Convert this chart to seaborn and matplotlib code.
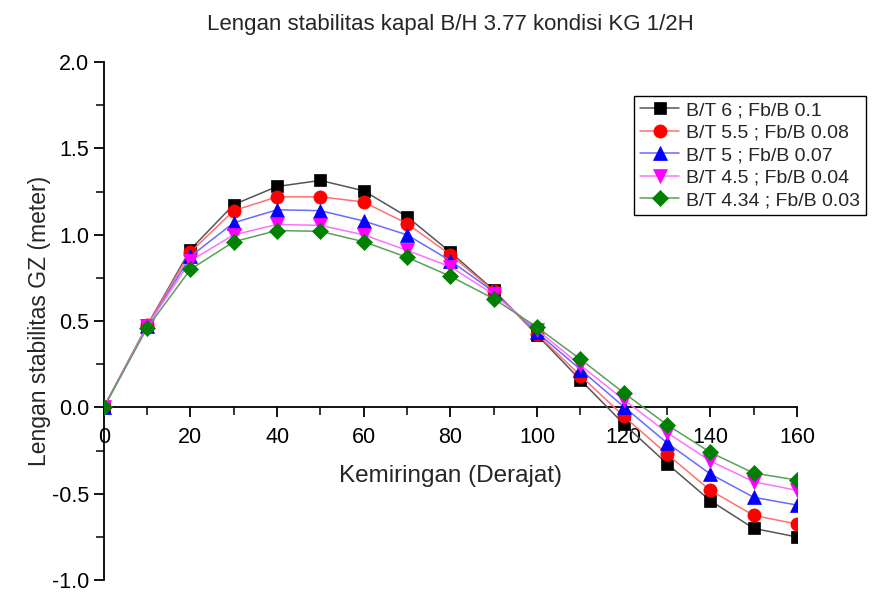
import matplotlib
matplotlib.use("Agg")
import matplotlib.pyplot as plt
import seaborn as sns
import pandas as pd
from matplotlib.ticker import MultipleLocator

angles = [0, 10, 20, 30, 40, 50, 60, 70, 80, 90, 100, 110, 120, 130, 140, 150, 160]
gz_bt6 = [0.0, 0.475, 0.915, 1.175, 1.28, 1.315, 1.255, 1.105, 0.90, 0.68, 0.42, 0.16, -0.095, -0.325, -0.54, -0.70, -0.75]
gz_bt55 = [0.0, 0.475, 0.90, 1.14, 1.22, 1.22, 1.19, 1.065, 0.885, 0.675, 0.425, 0.185, -0.05, -0.27, -0.48, -0.625, -0.675]
gz_bt5 = [0.0, 0.47, 0.875, 1.07, 1.145, 1.14, 1.08, 1.0, 0.85, 0.67, 0.435, 0.22, 0.005, -0.205, -0.385, -0.52, -0.565]
gz_bt45 = [0.0, 0.47, 0.85, 1.0, 1.06, 1.055, 1.0, 0.91, 0.815, 0.655, 0.45, 0.245, 0.045, -0.145, -0.31, -0.43, -0.48]
gz_bt434 = [0.0, 0.46, 0.80, 0.96, 1.025, 1.02, 0.96, 0.87, 0.76, 0.63, 0.465, 0.28, 0.085, -0.10, -0.26, -0.38, -0.42]
series_labels = ["B/T 6 ; Fb/B 0.1", "B/T 5.5 ; Fb/B 0.08", "B/T 5 ; Fb/B 0.07",
                 "B/T 4.5 ; Fb/B 0.04", "B/T 4.34 ; Fb/B 0.03"]

title = "Lengan stabilitas kapal B/H 3.77 kondisi KG 1/2H"
xlabel = "Kemiringan (Derajat)"
ylabel = "Lengan stabilitas GZ (meter)"

colors = ["#000000", "#ff0000", "#0000ff", "#ff00ff", "#008000"]
line_colors = ["#555555", "#ff7070", "#6a6aff", "#ff70ff", "#5aa05a"]
markers = ["s", "o", "^", "v", "D"]
msizes = [8.5, 9.5, 9.5, 9.5, 8.5]

sns.set_theme(style="ticks")
plt.rcParams["font.family"] = ["Liberation Sans", "DejaVu Sans"]

rows = []
for lab, vals in zip(series_labels, [gz_bt6, gz_bt55, gz_bt5, gz_bt45, gz_bt434]):
    for a, v in zip(angles, vals):
        rows.append({"angle": a, "gz": v, "series": lab})
df = pd.DataFrame(rows)

fig = plt.figure(figsize=(8.72, 5.92), dpi=100)
ax = fig.add_axes([0.119, 0.020, 0.795, 0.875])

for i, lab in enumerate(series_labels):
    sub = df[df["series"] == lab]
    sns.lineplot(data=sub, x="angle", y="gz", ax=ax, color=line_colors[i],
                 marker=markers[i], markersize=msizes[i], linewidth=1.1,
                 markerfacecolor=colors[i], markeredgecolor=colors[i],
                 markeredgewidth=0.5, legend=False, zorder=3 + i)

ax.set_xlim(0, 160)
ax.set_ylim(-1.0, 2.0)
ax.spines["top"].set_visible(False)
ax.spines["right"].set_visible(False)
ax.spines["bottom"].set_position(("data", 0))
for s in ["left", "bottom"]:
    ax.spines[s].set_linewidth(1.3)
    ax.spines[s].set_color("black")

ax.xaxis.set_major_locator(MultipleLocator(20))
ax.xaxis.set_minor_locator(MultipleLocator(10))
ax.yaxis.set_major_locator(MultipleLocator(0.5))
ax.yaxis.set_minor_locator(MultipleLocator(0.25))
ax.tick_params(axis="both", which="major", direction="out", length=7, width=1.3,
               labelsize=15.5, colors="black")
ax.tick_params(axis="x", which="major", pad=7)
ax.tick_params(axis="both", which="minor", direction="out", length=6, width=1.3)
ax.yaxis.set_major_formatter(matplotlib.ticker.FormatStrFormatter("%.1f"))
ax.xaxis.set_major_formatter(matplotlib.ticker.FormatStrFormatter("%d"))

ax.set_xlabel(xlabel, fontsize=17.5)
ax.xaxis.set_label_coords(0.5, 0.222)
ax.set_ylabel(ylabel, fontsize=16.5, labelpad=1)
ax.set_title(title, fontsize=16, pad=23)

leg = ax.legend(handles=ax.lines[:5], labels=series_labels, loc="upper right",
                bbox_to_anchor=(1.099, 0.935), fontsize=14, frameon=True,
                fancybox=False, edgecolor="black", framealpha=1,
                handlelength=2.0, handletextpad=0.35, labelspacing=0.25,
                borderpad=0.3, borderaxespad=0.0)
leg.get_frame().set_linewidth(1.0)

fig.savefig("out.png", dpi=100, facecolor="white")
